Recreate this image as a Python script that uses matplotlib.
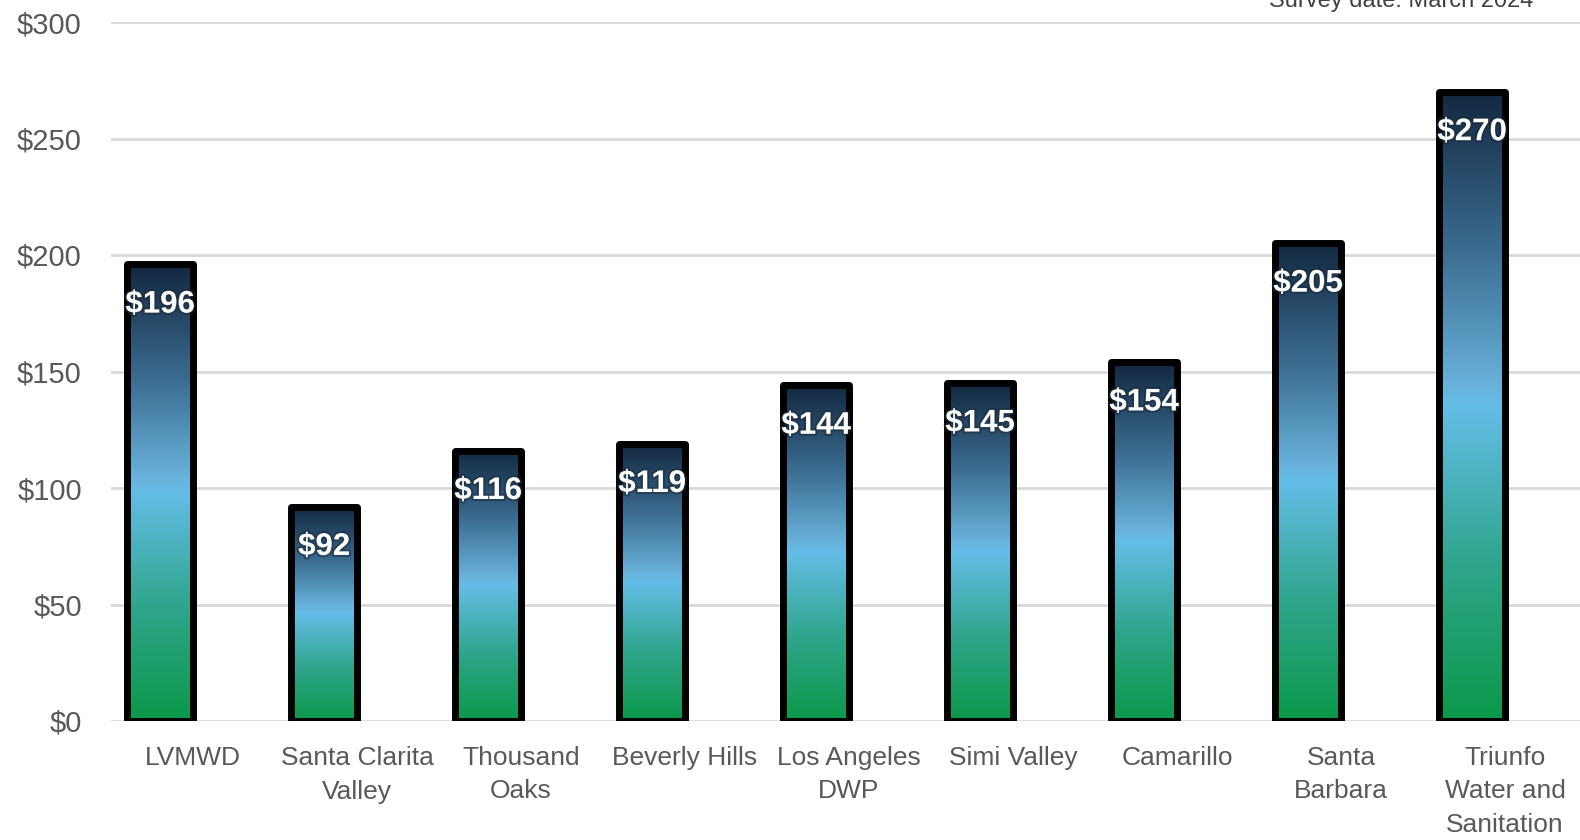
import matplotlib
matplotlib.use("Agg")
import matplotlib.pyplot as plt
import numpy as np
from matplotlib.colors import LinearSegmentedColormap
from matplotlib.patches import Rectangle
import matplotlib.patheffects as pe

categories = ["LVMWD", "Santa Clarita\nValley", "Thousand\nOaks", "Beverly Hills",
              "Los Angeles\nDWP", "Simi Valley", "Camarillo", "Santa\nBarbara",
              "Triunfo\nWater and\nSanitation"]
values = [196, 92, 116, 119, 144, 145, 154, 205, 270]
yticks = [0, 50, 100, 150, 200, 250, 300]
ytick_labels = ["$0", "$50", "$100", "$150", "$200", "$250", "$300"]
value_labels = ["$" + str(v) for v in values]
note = "Survey date: March 2024"

W, H = 1580, 840
fig = plt.figure(figsize=(W / 100, H / 100), dpi=100)
left = 111 / W
bottom = (H - 721) / H
top = (H - 22) / H
ax = fig.add_axes([left, bottom, (1587 - 111) / W, top - bottom])

cmap = LinearSegmentedColormap.from_list("grad", [
    (0.0, "#0b984a"),
    (0.25, "#2fa58c"),
    (0.5, "#64bde7"),
    (0.53, "#69b3dc"),
    (0.75, "#3b6c90"),
    (1.0, "#132840"),
])
grad = np.linspace(0, 1, 256).reshape(-1, 1)

ax.set_xlim(-0.5, len(categories) - 0.5)
ax.set_ylim(0, 300)

offset = -0.2
bw = 0.40
for i, v in enumerate(values):
    x0 = i + offset - bw / 2
    rect = Rectangle((x0, 0), bw, v, facecolor="none", edgecolor="none")
    ax.add_patch(rect)
    im = ax.imshow(grad, cmap=cmap, origin="lower", aspect="auto",
                   extent=[x0, x0 + bw, 0, v], zorder=2, interpolation="bilinear")
    im.set_clip_path(rect)
    ax.add_patch(Rectangle((x0, 0), bw, v, facecolor="none", edgecolor="black",
                           linewidth=5.0, joinstyle="round", zorder=3))
    ax.annotate(value_labels[i], xy=(i + offset, v), xytext=(0, -29),
                textcoords="offset points", ha="center", va="center",
                fontsize=22.5, fontweight="bold", color="white",
                family="Liberation Sans", zorder=4,
                path_effects=[pe.withStroke(linewidth=3, foreground="#1c2b3a", alpha=0.55)])

ax.set_xlim(-0.5, len(categories) - 0.5)
ax.set_ylim(0, 300)

ax.set_yticks(yticks)
ax.set_yticklabels(ytick_labels)
ax.set_xticks(range(len(categories)))
ax.set_xticklabels(categories, linespacing=1.5)
ax.tick_params(axis="y", length=0, pad=21, labelsize=21, labelcolor="#595959")
ax.tick_params(axis="x", length=0, pad=18, labelsize=19, labelcolor="#595959")
for lab in ax.get_xticklabels() + ax.get_yticklabels():
    lab.set_family("Liberation Sans")

ax.grid(axis="y", color="#d9d9d9", linewidth=2.0, zorder=0)
ax.set_axisbelow(True)
for s in ax.spines.values():
    s.set_visible(False)

fig.text(1533 / W, (H - 7) / H, note, ha="right", va="baseline",
         fontsize=17, color="#404040", family="Liberation Sans")

fig.savefig("out.png", dpi=100)
